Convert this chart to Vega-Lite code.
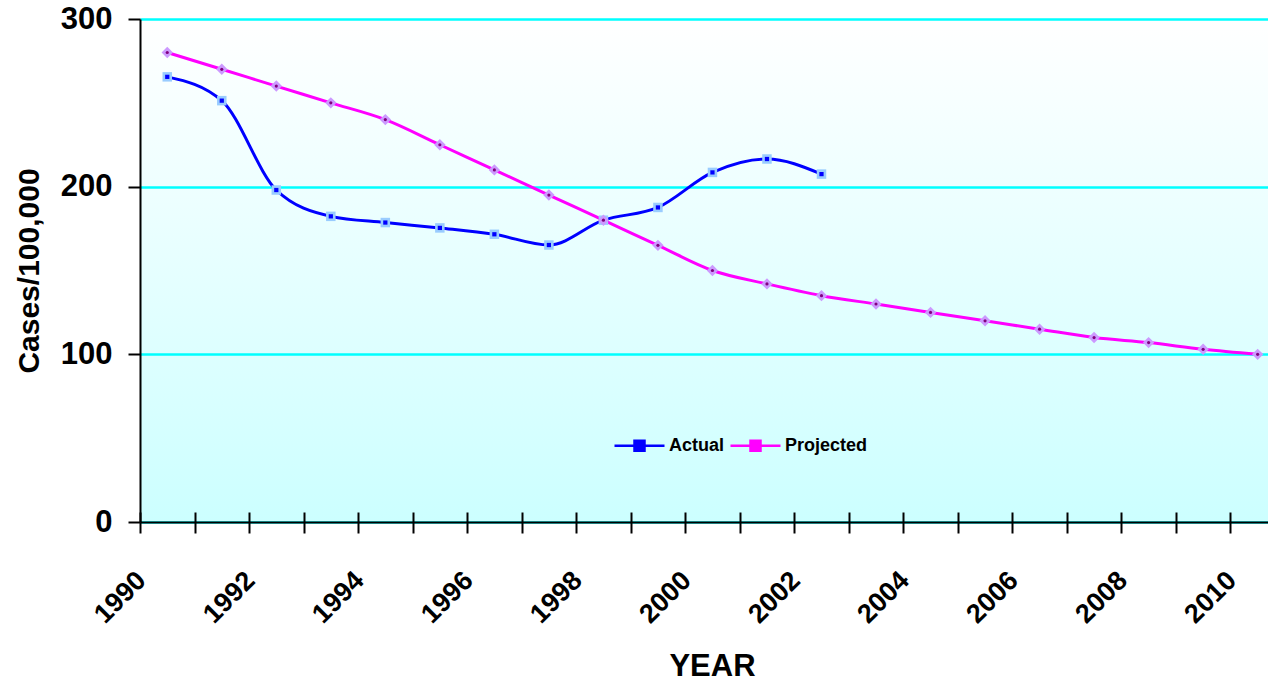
{
  "$schema": "https://vega.github.io/schema/vega-lite/v6.json",
  "width": 1128,
  "height": 503,
  "autosize": {"type": "none"},
  "padding": {"left": 140, "top": 19, "right": 0, "bottom": 159},
  "background": "white",
  "config": {
    "font": "Liberation Sans",
    "view": {
      "stroke": null,
      "fill": {
        "gradient": "linear",
        "x1": 0, "y1": 0, "x2": 0, "y2": 1,
        "stops": [
          {"offset": 0, "color": "#ffffff"},
          {"offset": 1, "color": "#ccffff"}
        ]
      }
    }
  },
  "data": {
    "values": [
      {"year": 1990, "series": "Actual", "value": 265.5},
      {"year": 1991, "series": "Actual", "value": 251.3},
      {"year": 1992, "series": "Actual", "value": 198},
      {"year": 1993, "series": "Actual", "value": 182.3},
      {"year": 1994, "series": "Actual", "value": 178.6},
      {"year": 1995, "series": "Actual", "value": 175.4},
      {"year": 1996, "series": "Actual", "value": 171.6},
      {"year": 1997, "series": "Actual", "value": 165.2},
      {"year": 1998, "series": "Actual", "value": 180},
      {"year": 1999, "series": "Actual", "value": 187.6},
      {"year": 2000, "series": "Actual", "value": 208.5},
      {"year": 2001, "series": "Actual", "value": 216.5},
      {"year": 2002, "series": "Actual", "value": 207.5},
      {"year": 1990, "series": "Projected", "value": 280},
      {"year": 1991, "series": "Projected", "value": 270},
      {"year": 1992, "series": "Projected", "value": 260},
      {"year": 1993, "series": "Projected", "value": 250},
      {"year": 1994, "series": "Projected", "value": 240},
      {"year": 1995, "series": "Projected", "value": 225},
      {"year": 1996, "series": "Projected", "value": 210},
      {"year": 1997, "series": "Projected", "value": 195},
      {"year": 1998, "series": "Projected", "value": 180},
      {"year": 1999, "series": "Projected", "value": 165},
      {"year": 2000, "series": "Projected", "value": 150},
      {"year": 2001, "series": "Projected", "value": 142},
      {"year": 2002, "series": "Projected", "value": 135},
      {"year": 2003, "series": "Projected", "value": 130},
      {"year": 2004, "series": "Projected", "value": 125},
      {"year": 2005, "series": "Projected", "value": 120},
      {"year": 2006, "series": "Projected", "value": 115},
      {"year": 2007, "series": "Projected", "value": 110},
      {"year": 2008, "series": "Projected", "value": 107},
      {"year": 2009, "series": "Projected", "value": 103},
      {"year": 2010, "series": "Projected", "value": 100}
    ]
  },
  "encoding": {
    "y": {
      "field": "value",
      "type": "quantitative",
      "scale": {"domain": [0, 300], "nice": false, "zero": true},
      "axis": {
        "values": [0, 100, 200, 300],
        "grid": true,
        "gridColor": "#00ffff",
        "gridWidth": 2.5,
        "gridOpacity": 1,
        "domain": true,
        "domainColor": "black",
        "domainWidth": 2,
        "ticks": true,
        "tickColor": "black",
        "tickWidth": 2,
        "tickSize": 12,
        "labelFont": "Liberation Sans",
        "labelFontSize": 31,
        "labelFontWeight": "bold",
        "labelColor": "black",
        "labelPadding": 16,
        "labelFlush": false,
        "title": "Cases/100,000",
        "titleFont": "Liberation Sans",
        "titleFontSize": 30,
        "titleFontWeight": "bold",
        "titleColor": "black",
        "titlePadding": 16
      }
    }
  },
  "layer": [
    {
      "mark": {"type": "line", "interpolate": "monotone", "strokeWidth": 3},
      "encoding": {
        "x": {
          "field": "year",
          "type": "quantitative",
          "scale": {"domain": [1989.5, 2010.19], "nice": false, "zero": false},
          "axis": {
            "orient": "bottom",
            "values": [1989.5, 1990.5, 1991.5, 1992.5, 1993.5, 1994.5, 1995.5, 1996.5, 1997.5, 1998.5, 1999.5, 2000.5, 2001.5, 2002.5, 2003.5, 2004.5, 2005.5, 2006.5, 2007.5, 2008.5, 2009.5],
            "labels": false,
            "title": null,
            "grid": false,
            "domain": true,
            "domainColor": "black",
            "domainWidth": 2,
            "ticks": true,
            "tickColor": "black",
            "tickWidth": 2,
            "tickSize": 11
          }
        },
        "color": {
          "field": "series",
          "type": "nominal",
          "scale": {"domain": ["Actual", "Projected"], "range": ["#0000ff", "#ff00ff"]},
          "legend": {
            "orient": "none",
            "legendX": 473,
            "legendY": 400,
            "direction": "horizontal",
            "title": null,
            "symbolType": "M-1,0H1M-0.2,-0.2H0.2V0.2H-0.2Z",
            "symbolSize": 2500,
            "symbolStrokeWidth": 2.5,
            "labelFont": "Liberation Sans",
            "labelFontSize": 18,
            "labelFontWeight": "bold",
            "labelColor": "black",
            "labelOffset": 3,
            "columnPadding": 0,
            "encode": {"symbols": {"update": {"fill": {"scale": "color", "field": "value"}}}}
          }
        }
      }
    },
    {
      "transform": [{"filter": "datum.series === 'Actual'"}],
      "mark": {"type": "point", "shape": "square", "filled": true, "color": "#99ccff", "size": 90, "opacity": 1},
      "encoding": {
        "x": {
          "field": "year",
          "type": "quantitative",
          "axis": {
            "orient": "bottom",
            "values": [1989.5, 1990.5, 1991.5, 1992.5, 1993.5, 1994.5, 1995.5, 1996.5, 1997.5, 1998.5, 1999.5, 2000.5, 2001.5, 2002.5, 2003.5, 2004.5, 2005.5, 2006.5, 2007.5, 2008.5, 2009.5],
            "labels": false,
            "title": null,
            "grid": false,
            "domain": false,
            "ticks": true,
            "tickColor": "black",
            "tickWidth": 2,
            "tickSize": -10
          }
        }
      }
    },
    {
      "transform": [{"filter": "datum.series === 'Actual'"}],
      "mark": {"type": "point", "shape": "square", "filled": true, "color": "#0000ff", "size": 18, "opacity": 1},
      "encoding": {
        "x": {
          "field": "year",
          "type": "quantitative",
          "axis": {
            "orient": "bottom",
            "values": [1990, 1992, 1994, 1996, 1998, 2000, 2002, 2004, 2006, 2008, 2010],
            "format": "d",
            "ticks": false,
            "tickSize": 0,
            "domain": false,
            "grid": false,
            "labelAngle": -45,
            "labelAlign": "right",
            "labelBaseline": "middle",
            "labelFont": "Liberation Sans",
            "labelFontSize": 27,
            "labelFontWeight": "bold",
            "labelColor": "black",
            "labelPadding": 54,
            "labelOffset": -26,
            "labelFlush": false,
            "labelOverlap": false,
            "labelBound": false,
            "title": "YEAR",
            "titleFont": "Liberation Sans",
            "titleFontSize": 31,
            "titleFontWeight": "bold",
            "titleColor": "black",
            "titleX": 572,
            "titleY": 153,
            "titleAlign": "center",
            "titleBaseline": "alphabetic"
          }
        }
      }
    },
    {
      "transform": [{"filter": "datum.series === 'Projected'"}],
      "mark": {"type": "point", "shape": "diamond", "filled": true, "color": "#cc99ff", "size": 130, "opacity": 1},
      "encoding": {
        "x": {"field": "year", "type": "quantitative", "axis": null}
      }
    },
    {
      "transform": [{"filter": "datum.series === 'Projected'"}],
      "mark": {"type": "point", "shape": "circle", "filled": true, "color": "#800080", "size": 10, "opacity": 1},
      "encoding": {
        "x": {"field": "year", "type": "quantitative", "axis": null}
      }
    }
  ],
  "resolve": {"axis": {"x": "independent"}}
}
